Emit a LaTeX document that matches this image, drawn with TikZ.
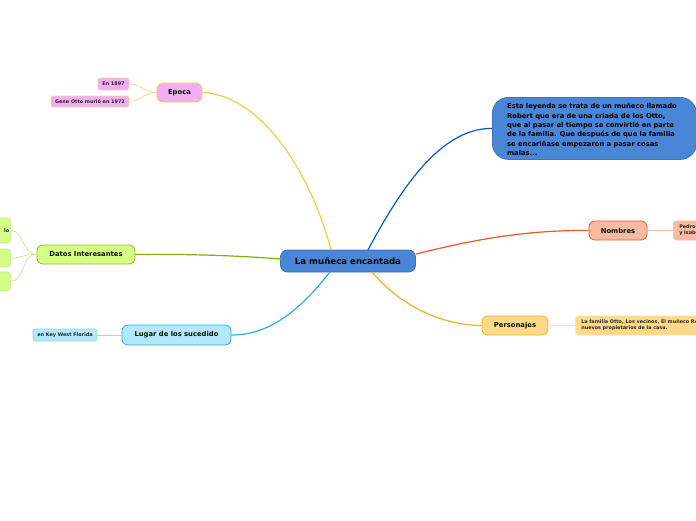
\documentclass[tikz,border=0pt]{standalone}
\usepackage{fontspec}
\setmainfont{DejaVu Sans}
\begin{document}
\begin{tikzpicture}[x=1pt,y=-1pt,
  base/.style={rounded corners=6pt, line width=0.8pt, font=\bfseries\fontsize{6.8}{8}\selectfont, text=black!80!green!40!black, inner sep=0pt},
  leaf/.style={rounded corners=2pt, line width=0.6pt, font=\bfseries\fontsize{4.9}{6}\selectfont, text=black!85, inner sep=0pt},
  mainl/.style={line width=1.2pt},
  subl/.style={line width=0.7pt}]
\definecolor{cblue}{HTML}{4A86D6}
\definecolor{cbluebd}{HTML}{3A72C4}
\definecolor{cblueln}{HTML}{0A58C8}
\definecolor{cpink}{HTML}{F2AEF2}
\definecolor{cpinkbd}{HTML}{F0D040}
\definecolor{cpinkleafbd}{HTML}{F4D890}
\definecolor{cgreen}{HTML}{D4FF84}
\definecolor{cgreenbd}{HTML}{8CC020}
\definecolor{cgreenln}{HTML}{80AE10}
\definecolor{cgreenl}{HTML}{C8E890}
\definecolor{clblue}{HTML}{B2E8FA}
\definecolor{clbluebd}{HTML}{2AAEE6}
\definecolor{clbluel}{HTML}{9AD8F2}
\definecolor{csal}{HTML}{F8BAA2}
\definecolor{csalbd}{HTML}{E85A30}
\definecolor{csalln}{HTML}{EE5428}
\definecolor{csall}{HTML}{F6B8A0}
\definecolor{cyel}{HTML}{FFD98A}
\definecolor{cyelbd}{HTML}{F2B020}
\definecolor{cyell}{HTML}{FFE0A0}
\useasboundingbox (0,0) rectangle (696,520);
\clip (0,0) rectangle (696,520);

% central
\node[base, fill=cblue, draw=cbluebd, minimum width=135pt, minimum height=22pt, rounded corners=7pt, font=\bfseries\fontsize{8.6}{10}\selectfont, text=black] (c) at (348,261) {La muñeca encantada};

% description
\node[base, fill=cblue, draw=cbluebd, minimum width=204pt, minimum height=62pt, rounded corners=16pt, anchor=north west] (d) at (492,97) {};
\node[font=\bfseries\fontsize{6.75}{9.3}\selectfont, align=left, anchor=north west, inner sep=0pt, text=black] (dt) at (507,103.5) {Esta leyenda se trata de un muñeco llamado\\Robert que era de una criada de los Otto,\\que al pasar el tiempo se convirtió en parte\\de la familia. Que después de que la familia\\se encariñase empezaron a pasar cosas\\malas...};

% Epoca
\node[base, fill=cpink, draw=cpinkbd, minimum width=45pt, minimum height=19pt] (e) at (179.5,92.5) {Epoca};
\node[leaf, fill=cpink, draw=cpinkleafbd, minimum width=31pt, minimum height=12pt] (e1) at (113.5,84) {En 1897};
\node[leaf, fill=cpink, draw=cpinkleafbd, minimum width=78pt, minimum height=11pt] (e2) at (90,101.5) {Gene Otto murió en 1972};

% Datos
\node[base, fill=cgreen, draw=cgreenbd, minimum width=98pt, minimum height=19pt] (g) at (86,254.5) {Datos Interesantes};
\node[leaf, fill=cgreen, draw=cgreenl, minimum width=40pt, minimum height=25pt, anchor=east, align=right, text width=37pt, rounded corners=3pt] (g1) at (11,230.5) {lo};
\node[leaf, fill=cgreen, draw=cgreenl, minimum width=40pt, minimum height=18pt, anchor=east, rounded corners=3pt] (g2) at (11,258) {};
\node[leaf, fill=cgreen, draw=cgreenl, minimum width=40pt, minimum height=19pt, anchor=east, rounded corners=3pt] (g3) at (11,281.5) {};

% Lugar
\node[base, fill=clblue, draw=clbluebd, minimum width=109pt, minimum height=20pt] (l) at (176.5,335) {Lugar de los sucedido};
\node[leaf, fill=clblue, draw=clbluel, minimum width=64pt, minimum height=12pt] (l1) at (65,335) {en Key West Florida};

% Nombres
\node[base, fill=csal, draw=csalbd, minimum width=58pt, minimum height=19pt] (n) at (618,230.5) {Nombres};
\node[leaf, fill=csal, draw=csall, minimum width=40pt, minimum height=19pt, anchor=west, align=left, text width=36pt, rounded corners=3pt] (n1) at (673,230.5) {\hspace*{4pt}Pedro V\\\hspace*{4pt}y Isabe};

% Personajes
\node[base, fill=cyel, draw=cyelbd, minimum width=66pt, minimum height=19pt] (p) at (515,325.5) {Personajes};
\node[leaf, fill=cyel, draw=cyell, minimum width=140pt, minimum height=19pt, anchor=west, align=left, text width=136pt, rounded corners=3pt] (p1) at (575,325.5) {\hspace*{4pt}La familia Otto, Los vecinos, El muñeco Ro\\\hspace*{4pt}nuevos propietarios de la casa.};

% main connectors
\coordinate (ce) at (331,250);
\draw[mainl, draw=cpinkbd!95!orange] (ce) .. controls (310,170) and (260,95) .. (e.east);
\coordinate (cd) at (368,250);
\draw[mainl, draw=cblueln] (cd) .. controls (400,190) and (440,128) .. (d.west);
\coordinate (cn) at (416,254);
\draw[mainl, draw=csalln] (cn) .. controls (480,238) and (530,230) .. (n.west);
\coordinate (cp) at (372,272);
\draw[mainl, draw=cyelbd] (cp) .. controls (400,305) and (440,325) .. (p.west);
\coordinate (cl) at (330,272);
\draw[mainl, draw=clbluebd] (cl) .. controls (300,310) and (270,335) .. (l.east);
\coordinate (cg) at (281,259);
\draw[mainl, draw=cgreenln] (cg) .. controls (230,255) and (180,254) .. (g.east);

% sub connectors
\draw[subl, draw=cpinkleafbd] (e.west) .. controls (145,92) and (140,84) .. (e1.east);
\draw[subl, draw=cpinkleafbd] (e.west) .. controls (145,92) and (140,101.5) .. (e2.east);
\draw[subl, draw=cgreenl] (g.west) .. controls (22,254) and (24,230.5) .. (g1.east);
\draw[subl, draw=cgreenl] (g.west) .. controls (24,254) and (22,258) .. (g2.east);
\draw[subl, draw=cgreenl] (g.west) .. controls (22,254) and (24,281.5) .. (g3.east);
\draw[subl, draw=clbluel] (l.west) -- (l1.east);
\draw[subl, draw=csall] (n.east) -- (n1.west);
\draw[subl, draw=cyell] (p.east) -- (p1.west);
\end{tikzpicture}
\end{document}
